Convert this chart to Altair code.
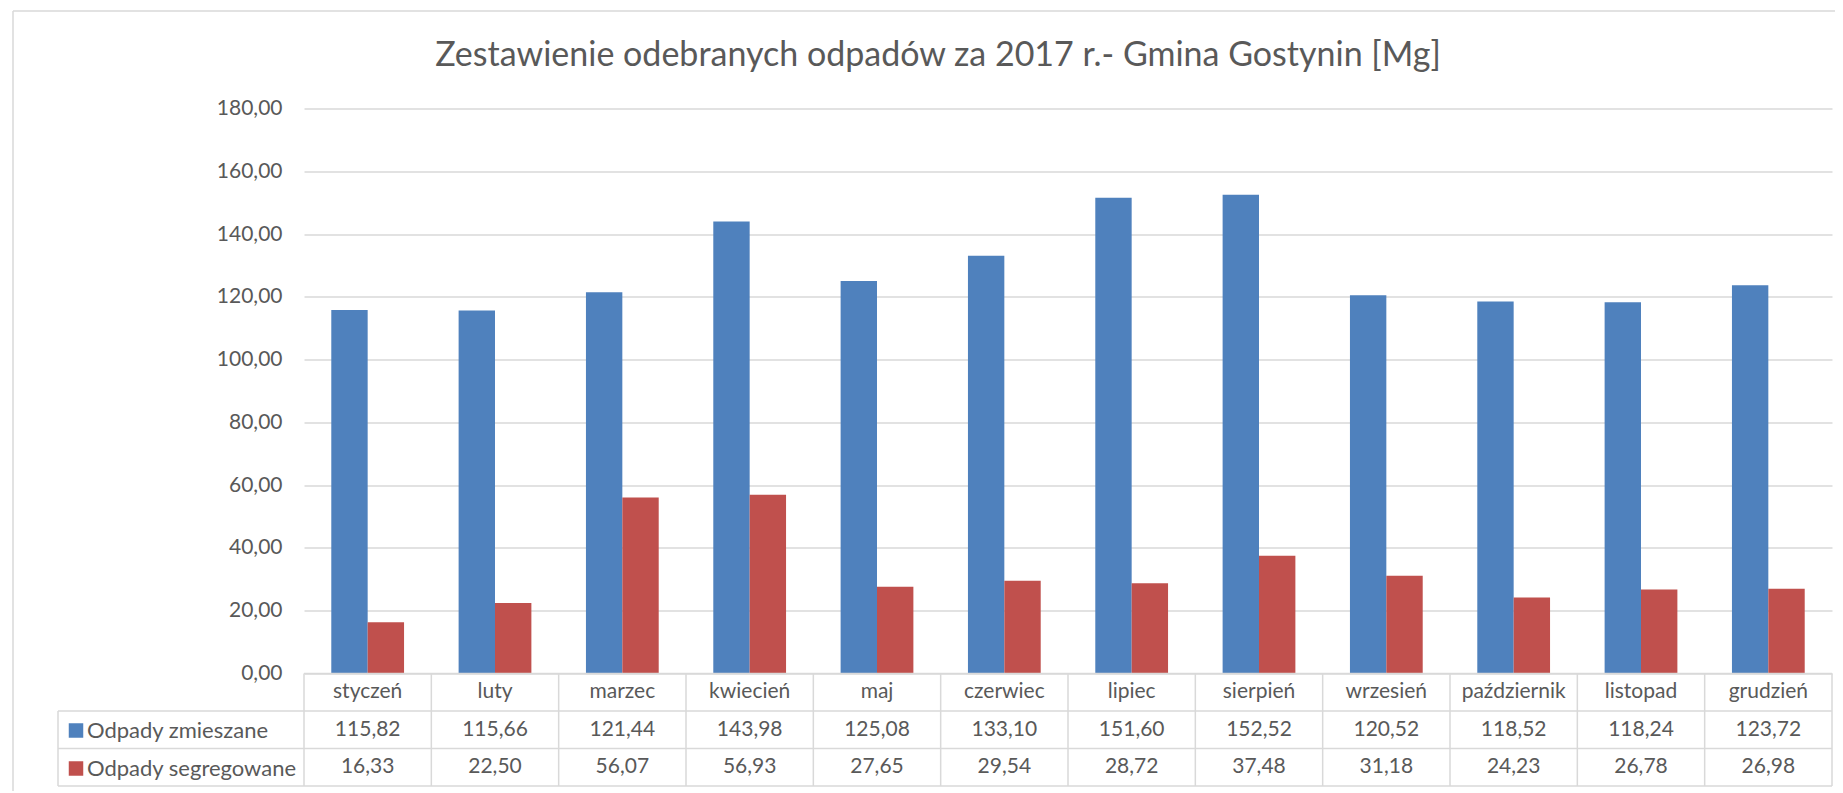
import altair as alt
import pandas as pd

months = ["styczeń", "luty", "marzec", "kwiecień", "maj", "czerwiec",
          "lipiec", "sierpień", "wrzesień", "październik", "listopad", "grudzień"]
series_names = ["Odpady zmieszane", "Odpady segregowane"]
zmieszane = [115.82, 115.66, 121.44, 143.98, 125.08, 133.10,
             151.60, 152.52, 120.52, 118.52, 118.24, 123.72]
segregowane = [16.33, 22.50, 56.07, 56.93, 27.65, 29.54,
               28.72, 37.48, 31.18, 24.23, 26.78, 26.98]
y_ticks = [0, 20, 40, 60, 80, 100, 120, 140, 160, 180]
title_text = "Zestawienie odebranych odpadów za 2017 r.- Gmina Gostynin [Mg]"
colors = ["#4F81BD", "#C0504D"]

TEXT = "#595959"
GRID = "#D9D9D9"
FONT = "Lato"

W = 1528          # plot + table width
H = 677.5         # plot + table height
PLOT_H = 565      # bar area height
ROW_RANGE = [565, 677.5]
LEFT = -246       # left edge of legend column in table

CAT_ROW = " "
rows = [CAT_ROW] + series_names

bars_df = pd.DataFrame({
    "month": months * 2,
    "series": [series_names[0]] * 12 + [series_names[1]] * 12,
    "value": zmieszane + segregowane,
})

def fmt(v):
    return f"{v:.2f}".replace(".", ",")

table_df = pd.DataFrame({
    "month": months * 3,
    "row": [CAT_ROW] * 12 + [series_names[0]] * 12 + [series_names[1]] * 12,
    "label": months + [fmt(v) for v in zmieszane] + [fmt(v) for v in segregowane],
})

xscale = alt.Scale(domain=months, paddingInner=0, paddingOuter=0)
rowscale = alt.Scale(domain=rows, range=ROW_RANGE, paddingInner=0, paddingOuter=0)
one = pd.DataFrame({"a": [0]})

bars = alt.Chart(bars_df).mark_bar().encode(
    x=alt.X("month:N", scale=xscale, axis=None),
    xOffset=alt.XOffset("series:N", scale=alt.Scale(domain=series_names, paddingInner=0, paddingOuter=0.75)),
    y=alt.Y("value:Q", scale=alt.Scale(domain=[0, 180], range=[PLOT_H, 0], nice=False),
            axis=alt.Axis(values=y_ticks, title=None, domain=False, ticks=False,
                          labelPadding=22, labelFont=FONT, labelFontSize=21, labelColor=TEXT,
                          labelExpr="replace(format(datum.value, '.2f'), '.', ',')",
                          grid=True, gridColor=GRID, gridWidth=1.3)),
    color=alt.Color("series:N", scale=alt.Scale(domain=series_names, range=colors),
                    legend=alt.Legend(orient="none", legendX=-239, legendY=611, direction="vertical",
                                      title=None, symbolType="square", symbolSize=210,
                                      symbolStrokeWidth=0, labelFont=FONT, labelFontSize=22,
                                      labelColor=TEXT, labelOffset=0, rowPadding=16,
                                      padding=0, labelLimit=300)),
)

table_text = alt.Chart(table_df).mark_text(font=FONT, fontSize=21, color=TEXT,
                                           align="center", baseline="middle").encode(
    x=alt.X("month:N", scale=xscale, axis=None),
    y=alt.Y("row:N", scale=rowscale, axis=None),
    text="label:N",
)

months_df = pd.DataFrame({"month": months})
vlines = alt.Chart(months_df).mark_rule(color=GRID, strokeWidth=1.5).encode(
    x=alt.X("month:N", scale=xscale, axis=None, bandPosition=0),
    y=alt.value(ROW_RANGE[0]), y2=alt.value(ROW_RANGE[1]),
)
vline_last = alt.Chart(pd.DataFrame({"month": [months[-1]]})).mark_rule(color=GRID, strokeWidth=1.5).encode(
    x=alt.X("month:N", scale=xscale, axis=None, bandPosition=1),
    y=alt.value(ROW_RANGE[0]), y2=alt.value(ROW_RANGE[1]),
)
step = (ROW_RANGE[1] - ROW_RANGE[0]) / 3
vline_left = alt.Chart(one).mark_rule(color=GRID, strokeWidth=1.5).encode(
    x=alt.value(LEFT), y=alt.value(ROW_RANGE[0] + step), y2=alt.value(ROW_RANGE[1]),
)
hline_top = alt.Chart(pd.DataFrame({"row": [CAT_ROW]})).mark_rule(color=GRID, strokeWidth=1.5).encode(
    y=alt.Y("row:N", scale=rowscale, axis=None, bandPosition=0),
    x=alt.value(0), x2=alt.value(W),
)
hline_rows = alt.Chart(pd.DataFrame({"row": series_names})).mark_rule(color=GRID, strokeWidth=1.5).encode(
    y=alt.Y("row:N", scale=rowscale, axis=None, bandPosition=0),
    x=alt.value(LEFT), x2=alt.value(W),
)
hline_bottom = alt.Chart(pd.DataFrame({"row": [series_names[-1]]})).mark_rule(color=GRID, strokeWidth=1.5).encode(
    y=alt.Y("row:N", scale=rowscale, axis=None, bandPosition=1),
    x=alt.value(LEFT), x2=alt.value(W),
)

# chart-area border (Excel frame)
frame_left = alt.Chart(one).mark_rule(color=GRID, strokeWidth=1.5).encode(
    x=alt.value(-291), y=alt.value(-97.5), y2=alt.value(H + 20),
)
frame_top = alt.Chart(one).mark_rule(color=GRID, strokeWidth=1.5).encode(
    x=alt.value(-291), x2=alt.value(W + 30), y=alt.value(-97.5),
)

chart = alt.layer(
    frame_left, frame_top, bars, vlines, vline_last, vline_left,
    hline_top, hline_rows, hline_bottom, table_text,
).resolve_scale(y="independent").properties(
    width=W, height=H,
    title=alt.Title(title_text, font=FONT, fontSize=34, color=TEXT, fontWeight="normal",
                    anchor="middle", frame="group", dx=-130, offset=0, dy=63),
    autosize=alt.AutoSizeParams(type="none"),
    padding={"left": 296, "top": 100.5, "right": 3, "bottom": 5},
).configure_view(strokeWidth=0)

chart.save("out.html", embed_options={"renderer": "svg", "actions": False})
